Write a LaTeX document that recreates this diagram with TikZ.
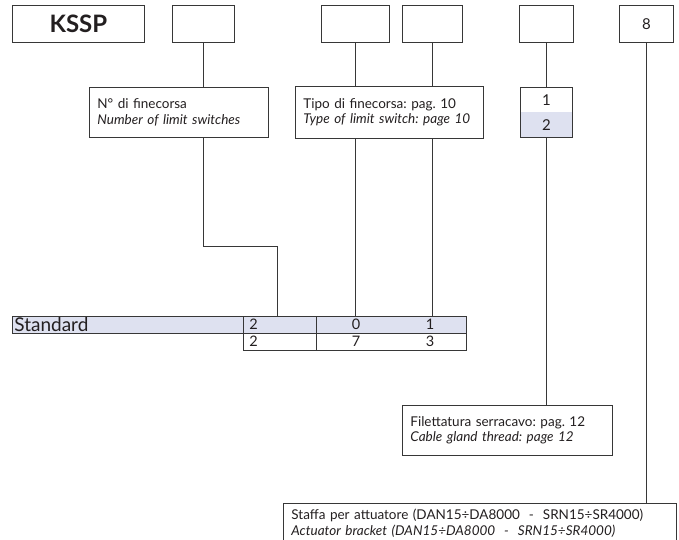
\documentclass[tikz,border=0pt]{standalone}
\usepackage{fontspec}
\setmainfont{Lato}
\usepackage{xcolor}
\usepackage{tikz}
\definecolor{lavender}{RGB}{222,225,240}
\definecolor{linegray}{RGB}{55,55,55}
\definecolor{textgray}{RGB}{35,31,32}
\newcommand{\descfont}{\fontsize{13.5}{15.5}\selectfont}
\newcommand{\digitfont}{\fontsize{15}{16}\selectfont}
\frenchspacing

\begin{document}
\begin{tikzpicture}[x=1pt, y=-1pt, line width=0.8pt, draw=linegray, every node/.style={text=textgray},
        codebox/.style={draw=linegray, line width=0.8pt, anchor=north west, minimum height=37pt, inner sep=0pt, font=\digitfont},
        descbox/.style={draw=linegray, line width=0.8pt, anchor=north west, align=left, inner xsep=8pt, inner ysep=0pt, minimum height=50pt, font=\descfont},
        cellbox/.style={draw=linegray, line width=0.8pt, anchor=north west, minimum height=17pt, inner sep=0pt},
        cellval/.style={inner sep=0pt, font=\fontsize{14.5}{15}\selectfont}]
        \clip (0,0) rectangle (679,539);
        \fill[white] (0,0) rectangle (679,539);

        \node (kssp) [codebox, minimum width=132pt, font=\bfseries\fontsize{24}{26}\selectfont] at (12,5) {KSSP};
        \node (nfinbox) [codebox, minimum width=62pt] at (172,5) {};
        \node (tipoabox) [codebox, minimum width=68pt] at (321,5) {};
        \node (tipobbox) [codebox, minimum width=60pt] at (402,5) {};
        \node (filbox) [codebox, minimum width=54pt] at (519,5) {};
        \node (staffabox) [codebox, minimum width=54pt] at (619,5) {8};

        \node (nfin) [descbox, text width=163pt] at (89,87) {N° di finecorsa\\\textit{Number of limit switches}};
        \node (tipo) [descbox, text width=172pt, minimum height=52pt] at (295,86) {Tipo di finecorsa: pag. 10\\\textit{Type of limit switch: page 10}};
        \node (opt1) [anchor=north west, fill=white, minimum width=52pt, minimum height=25pt, inner sep=0pt, font=\digitfont] at (520,87) {1};
        \node (opt2) [anchor=north west, fill=lavender, minimum width=52pt, minimum height=25pt, inner sep=0pt, font=\digitfont] at (520,112) {2};
        \draw (opt1.north west) rectangle (opt2.south east);
        \node (fil) [descbox, text width=194pt] at (402,405) {Filettatura serracavo: pag. 12\\\textit{Cable gland thread: page 12}};
        \node (staffa) [descbox, text width=377pt, minimum height=40pt] at (283,503) {Staffa per attuatore (DAN15÷DA8000 \ - \ SRN15÷SR4000)\\\textit{Actuator bracket (DAN15÷DA8000 \ - \ SRN15÷SR4000)}};

        \node (std) [cellbox, fill=lavender, minimum width=231pt, align=left, text width=227pt, inner xsep=2pt, font=\fontsize{19}{18}\selectfont] at (12,316) {Standard};
        \node (cella) [cellbox, fill=lavender, minimum width=73pt] at (243,316) {};
        \node (cellb) [cellbox, fill=lavender, minimum width=150pt] at (316,316) {};
        \node (cellc) [cellbox, minimum width=73pt] at (243,333) {};
        \node (celld) [cellbox, minimum width=150pt] at (316,333) {};
        \node (vala) [cellval, anchor=west] at (249,324.5) {2};
        \node (valb) [cellval] at (356,324.5) {0};
        \node (valc) [cellval] at (430,324.5) {1};
        \node (vald) [cellval, anchor=west] at (249,341.5) {2};
        \node (vale) [cellval] at (356,341.5) {7};
        \node (valf) [cellval] at (430,341.5) {3};

        \draw (nfinbox.south) -- (nfinbox.south |- nfin.north);
        \draw (nfin.south -| nfinbox) -- ++(0,109) -| ([xshift=-2.5pt]cella.north);
        \draw (tipoabox.south) -- (tipoabox.south |- tipo.north);
        \draw (tipo.south -| tipoabox) -- (tipoabox |- cellb.north);
        \draw (tipobbox.south) -- (tipobbox.south |- tipo.north);
        \draw (tipo.south -| tipobbox) -- (tipobbox |- cellb.north);
        \draw (filbox.south) -- (filbox.south |- opt1.north);
        \draw (opt2.south) -- (opt2.south |- fil.north);
        \draw (staffabox.south) -- (staffabox.south |- staffa.north);
    \end{tikzpicture}
\end{document}
